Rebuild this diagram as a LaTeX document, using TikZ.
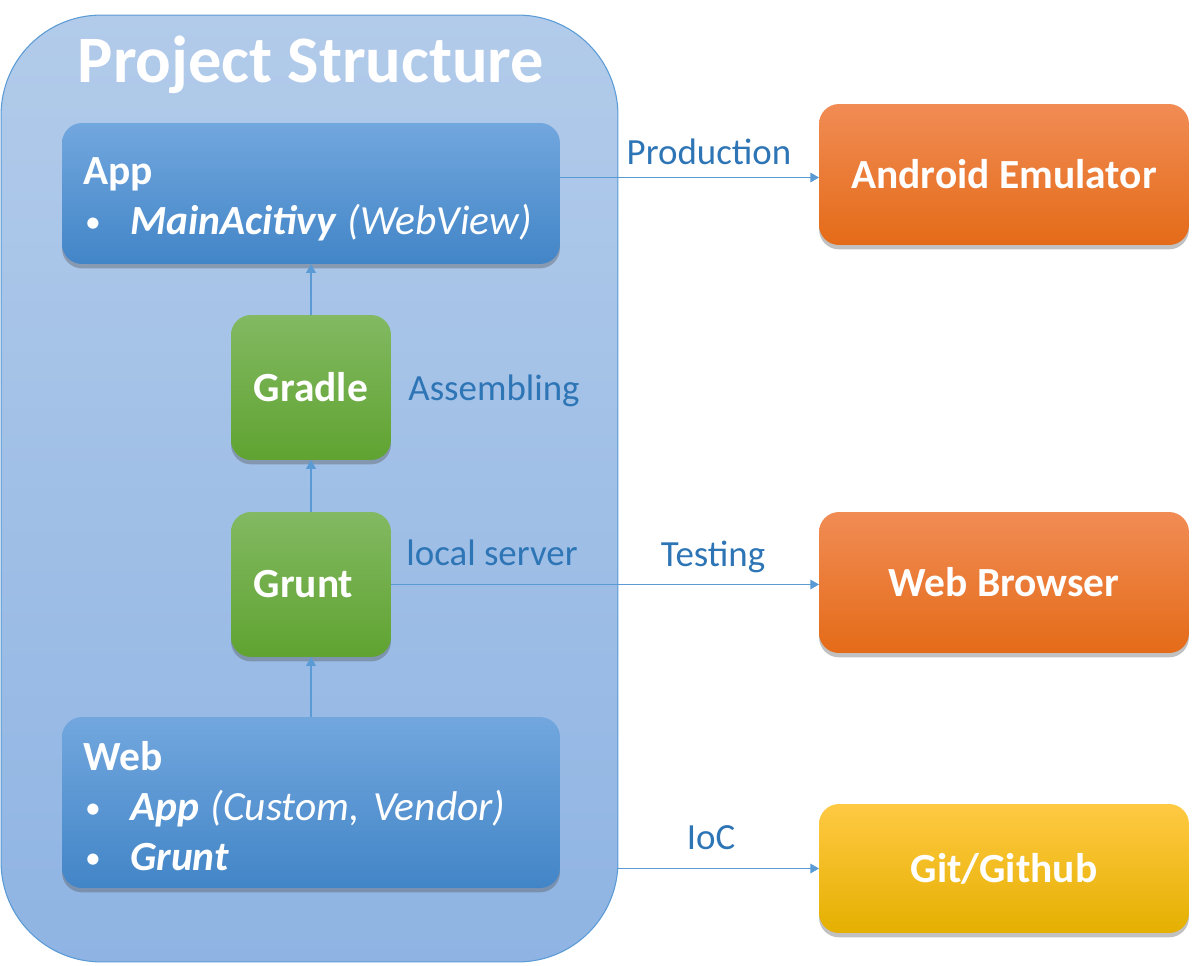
\documentclass[tikz,border=0pt]{standalone}
\usepackage{fontspec}
\setmainfont{Carlito}
\usetikzlibrary{shadows,arrows.meta,calc}
\definecolor{contTop}{HTML}{B2CBEA}
\definecolor{contBot}{HTML}{8FB4E3}
\definecolor{contLine}{HTML}{5B9BD5}
\definecolor{blueTop}{HTML}{72A7DE}
\definecolor{blueBot}{HTML}{4285C7}
\definecolor{greenTop}{HTML}{82B962}
\definecolor{greenBot}{HTML}{60A331}
\definecolor{orangeTop}{HTML}{F18C55}
\definecolor{orangeBot}{HTML}{E46B18}
\definecolor{yellowTop}{HTML}{FFC943}
\definecolor{yellowMid}{HTML}{FFC000}
\definecolor{yellowBot}{HTML}{E5B000}
\definecolor{labelBlue}{HTML}{2E75B6}
\definecolor{arrowBlue}{HTML}{5B9BD5}
\tikzset{
  boxbase/.style={rounded corners=0.4cm, inner sep=0pt, outer sep=0pt, text=white,
    font=\fontsize{23.6}{28.5}\selectfont\bfseries\frenchspacing,
    drop shadow={shadow xshift=0pt, shadow yshift=-2.5pt, opacity=0.35, fill=black!70}},
  bluebox/.style={boxbase, top color=blueTop, bottom color=blueBot},
  greenbox/.style={boxbase, top color=greenTop, bottom color=greenBot,
    minimum width=3.2cm, minimum height=2.9cm},
  orangebox/.style={boxbase, top color=orangeTop, bottom color=orangeBot,
    minimum width=7.4cm, minimum height=2.82cm},
  yellowbox/.style={boxbase, top color=yellowTop, middle color=yellowMid, bottom color=yellowBot,
    minimum width=7.4cm, minimum height=2.58cm},
  conn/.style={draw=arrowBlue, line width=0.75pt, -{Triangle[length=5pt,width=5.5pt]}},
  lbl/.style={text=labelBlue, font=\fontsize{21}{25}\selectfont, anchor=base, inner sep=0pt},
}
\newcommand{\bul}{\makebox[0.94cm][l]{\hspace*{0.04cm}\raisebox{1.2pt}{\fontsize{18}{18}\selectfont\mdseries\upshape\textbullet}}}
\begin{document}
\begin{tikzpicture}[x=0.02cm,y=-0.02cm]
\useasboundingbox (0,0) rectangle (1201,966);
% container
\node[rounded corners=2cm, top color=contTop, bottom color=contBot, draw=contLine,
  line width=0.6pt, minimum width=12.34cm, minimum height=18.94cm, inner sep=0pt, outer sep=0pt]
  (ps) at (309.5,488.5) {};
\node[anchor=base, text=white, font=\fontsize{37.8}{40}\selectfont\bfseries, inner sep=0pt]
  (title) at (311,83) {Project Structure};
% inner boxes
\node[bluebox, minimum width=9.96cm, minimum height=2.82cm, text width=9.12cm,
  align=left, inner xsep=0.42cm] (App) at (311,193.5)
  {\rule{0pt}{21.5pt}App\\ \bul\textit{MainAcitivy\hspace{-0.05em} \mdseries(WebView)}};
\node[greenbox] (Gradle) at (311,387.5) {Gradle};
\node[greenbox] (Grunt) at (311,584.5) {Grunt\hspace*{0.3cm}};
\node[bluebox, minimum width=9.96cm, minimum height=3.42cm, text width=9.12cm,
  align=left, inner xsep=0.42cm] (Web) at (311,802.5)
  {\rule{0pt}{21pt}Web\\ \bul\textit{App\hspace{-0.05em} \mdseries(Custom, Vendor)}\\ \bul\textit{Grunt}};
% right boxes
\node[orangebox] (Android) at (1004,174.5) {Android Emulator};
\node[orangebox] (Browser) at (1004,582.5) {Web Browser};
\node[yellowbox] (Git) at (1004,868.5) {Git/Github};
% connectors
\draw[conn] (Gradle) -- (App);
\draw[conn] (Grunt) -- (Gradle);
\draw[conn] (Web) -- (Grunt);
\coordinate (pstart) at ($(App.east)+(0,-16)$);
\draw[conn] (pstart) -- (pstart -| Android.west);
\draw[conn] (Grunt.east) -- (Grunt.east -| Browser.west);
\draw[conn] (Git.west -| ps.east) -- (Git.west);
% labels
\node[lbl] (lprod) at (709,165) {Production};
\node[lbl] (lasm) at (494,400) {Assembling};
\node[lbl] (lloc) at (492,565) {local server};
\node[lbl] (ltest) at (713,566) {Testing};
\node[lbl] (lioc) at (711,849) {IoC};
\end{tikzpicture}
\end{document}
